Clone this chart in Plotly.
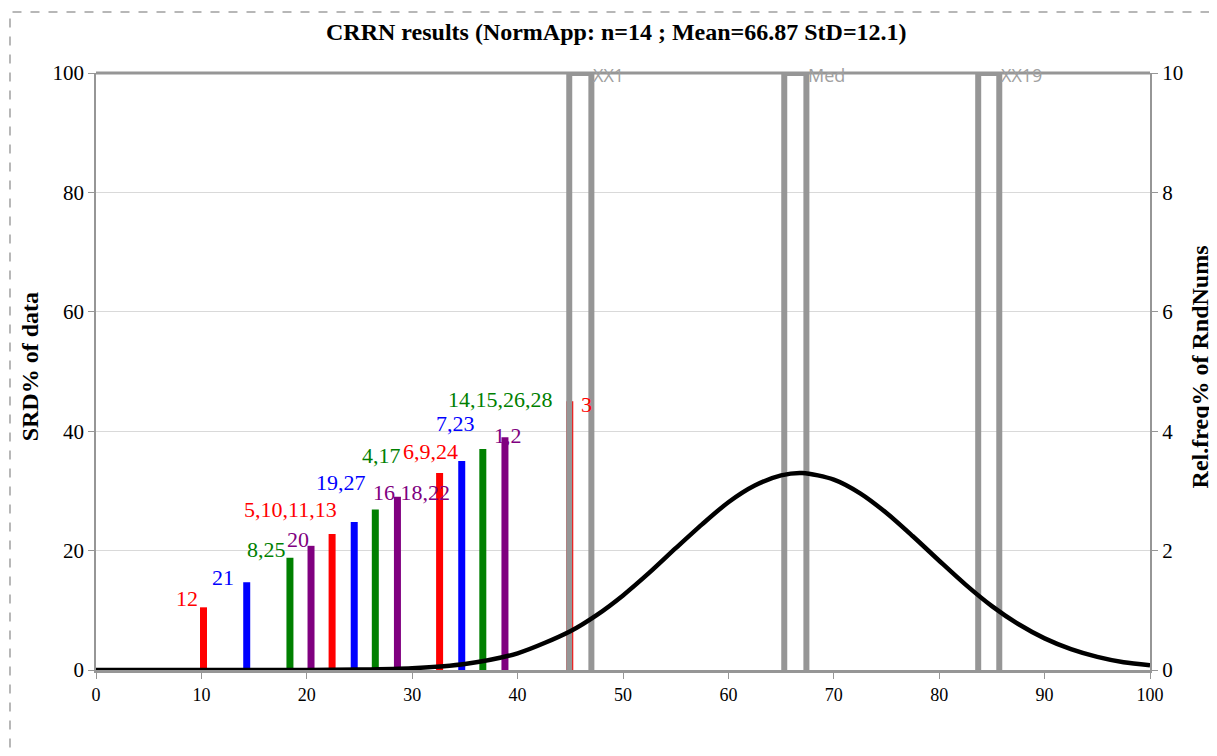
import plotly.graph_objects as go

# ---- data ----
bar_x = [10.2, 14.3, 18.4, 20.4, 22.4, 24.5, 26.5, 28.6, 32.6, 34.7, 36.7, 38.8, 44.95]
bar_h = [10.5, 14.7, 18.8, 20.8, 22.8, 24.8, 26.9, 29.0, 33.0, 35.0, 37.0, 39.0, 45.0]
bar_labels = ["12", "21", "8,25", "20", "5,10,11,13", "19,27", "4,17", "16,18,22",
              "6,9,24", "7,23", "14,15,26,28", "1,2", "3"]
bar_colors = ["red", "blue", "green", "purple", "red", "blue", "green", "purple",
              "red", "blue", "green", "purple", "red"]

curve_x = [0, 5, 10, 15, 20, 25, 30, 35, 40, 45, 47.5, 50, 52.5, 55, 57.5, 60, 62.5, 65, 67,
           70, 72.5, 75, 77.5, 80, 82.5, 85, 87.5, 90, 92.5, 95, 97.5, 100]
curve_y = [0.0, 0.0, 0.0, 0.0, 0.002, 0.008, 0.03, 0.10, 0.28, 0.65, 0.92, 1.25, 1.63, 2.04,
           2.44, 2.81, 3.09, 3.26, 3.30, 3.19, 2.96, 2.63, 2.24, 1.83, 1.43, 1.07, 0.77,
           0.53, 0.35, 0.22, 0.13, 0.08]

marker_names = ["XX1", "Med", "XX19"]
marker_x0 = [44.9, 65.3, 83.7]
marker_x1 = [47.0, 67.4, 85.7]

title_text = "CRRN results (NormApp: n=14 ; Mean=66.87 StD=12.1)"
left_title = "SRD% of data"
right_title = "Rel.freq% of RndNums"

# label pixel offsets relative to bar top (styling only)
lab_dx = [-17, -24, -23, -13, -42, -13, 6, 14, -9, -6, 18, 3, 17]
lab_dy = [-9, -5, -8, -6, -24, -39, -54, -4, -21, -38, -50, -2, 3]

color_map = {"red": "#FF0000", "blue": "#0000FF", "green": "#008000", "purple": "#800080"}
GRAY = "#969696"
SERIF = "Liberation Serif, Times New Roman, serif"

fig = go.Figure()

for i in range(len(bar_x)):
    fig.add_trace(go.Scatter(
        x=[bar_x[i], bar_x[i]], y=[0, bar_h[i]], mode="lines",
        line=dict(color=color_map[bar_colors[i]], width=7),
        showlegend=False, hoverinfo="skip", xaxis="x", yaxis="y"))

for i in range(len(marker_names)):
    fig.add_trace(go.Scatter(
        x=[marker_x0[i], marker_x0[i], marker_x1[i], marker_x1[i]],
        y=[0, 100, 100, 0], mode="lines",
        line=dict(color=GRAY, width=6), showlegend=False, hoverinfo="skip"))

fig.add_trace(go.Scatter(
    x=curve_x, y=curve_y, mode="lines",
    line=dict(color="black", width=4.5, shape="spline", smoothing=0.8),
    yaxis="y2", showlegend=False, hoverinfo="skip"))

annotations = []
for i in range(len(bar_x)):
    annotations.append(dict(
        x=bar_x[i], y=bar_h[i], xref="x", yref="y", text=bar_labels[i], showarrow=False,
        xanchor="center", yanchor="middle",
        xshift=lab_dx[i], yshift=-lab_dy[i],
        font=dict(family=SERIF, size=22, color=color_map[bar_colors[i]])))
for i in range(len(marker_names)):
    annotations.append(dict(
        x=marker_x1[i], y=100, xref="x", yref="y", text=marker_names[i], showarrow=False,
        xanchor="left", yanchor="middle", xshift=0, yshift=-2,
        font=dict(family="Open Sans, DejaVu Sans, sans-serif", size=18, color="#A0A0A0")))
annotations.append(dict(
    x=0.494, y=1.0687, xref="paper", yref="paper", text="<b>" + title_text + "</b>",
    showarrow=False, xanchor="center", yanchor="middle",
    font=dict(family=SERIF, size=24, color="black")))
annotations.append(dict(
    x=-0.0626, y=0.507, xref="paper", yref="paper", text="<b>" + left_title + "</b>",
    showarrow=False, xanchor="center", yanchor="middle", textangle=-90,
    font=dict(family=SERIF, size=24, color="black")))
annotations.append(dict(
    x=1.0475, y=0.507, xref="paper", yref="paper", text="<b>" + right_title + "</b>",
    showarrow=False, xanchor="center", yanchor="middle", textangle=-90,
    font=dict(family=SERIF, size=24, color="black")))

fig.update_layout(
    width=1209, height=748,
    margin=dict(l=88, r=67, t=65, b=86),
    paper_bgcolor="white", plot_bgcolor="white",
    annotations=annotations,
    xaxis=dict(range=[0, 100], tickvals=list(range(0, 101, 10)), showgrid=False,
               zeroline=False, showline=True, linecolor=GRAY, linewidth=3,
               ticks="outside", ticklen=6, tickcolor=GRAY, automargin=False,
               tickfont=dict(family=SERIF, size=18, color="black")),
    yaxis=dict(range=[0, 100], tickvals=list(range(0, 101, 20)), showgrid=True,
               gridcolor="#D9D9D9", gridwidth=1, zeroline=False, showline=True,
               linecolor=GRAY, linewidth=1.5, ticks="outside", ticklen=6, tickcolor=GRAY,
               automargin=False,
               tickfont=dict(family=SERIF, size=21, color="black")),
    yaxis2=dict(range=[0, 10], tickvals=list(range(0, 11, 2)), overlaying="y", side="right",
                showgrid=False, zeroline=False, showline=True, linecolor=GRAY, linewidth=2,
                ticks="outside", ticklen=6, tickcolor=GRAY, automargin=False,
                tickfont=dict(family=SERIF, size=21, color="black")),
    shapes=[
        dict(type="line", xref="paper", yref="paper", x0=0, x1=1, y0=1, y1=1,
             line=dict(color=GRAY, width=3)),
        dict(type="rect", xref="paper", yref="paper", x0=-0.0816, x1=1.075, y0=-0.17, y1=1.102,
             line=dict(color="#A0A0A0", width=1.5, dash="dash"), layer="above"),
    ],
)

fig.write_html("out.html")
